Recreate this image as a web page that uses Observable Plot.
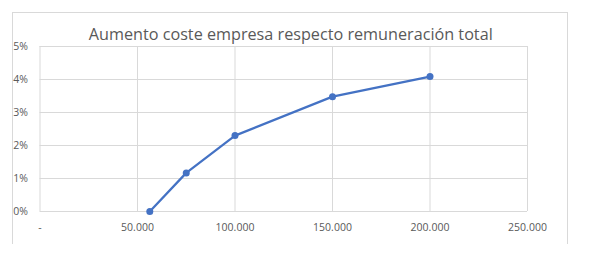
<!DOCTYPE html>
<html>
<head>
<meta charset="utf-8">
<script src="https://cdn.jsdelivr.net/npm/d3@7"></script>
<script src="https://cdn.jsdelivr.net/npm/@observablehq/plot@0.6"></script>
<style>
  html, body { margin: 0; padding: 0; background: #fff; }
  #wrap { position: relative; width: 599px; height: 270px; }
  #frame { position: absolute; left: 12px; top: 12px; width: 556px; height: 232px;
           border: 1px solid #d9d9d9; border-bottom: none; box-sizing: border-box; }
  #chart { position: absolute; left: 0; top: 0; }
</style>
</head>
<body>
<div id="wrap"><div id="frame"></div><div id="chart"></div></div>
<script>
const title = "Aumento coste empresa respecto remuneración total";
const salaries = [56300, 75000, 100000, 150000, 200000];
const increases = [0.0, 0.0117, 0.0230, 0.0348, 0.0409];
const xTicks = [0, 50000, 100000, 150000, 200000, 250000];
const yTicks = [0, 0.01, 0.02, 0.03, 0.04, 0.05];

const data = salaries.map((s, i) => ({x: s, y: increases[i]}));
const loc = d3.formatLocale({decimal: ",", thousands: ".", grouping: [3], currency: ["", ""]});
const fmt = loc.format(",");
const grey = "#595959";
const font = "'Open Sans', Lato, sans-serif";

const chart = Plot.plot({
  width: 599,
  height: 270,
  marginLeft: 39.5,
  marginRight: 72,
  marginTop: 46,
  marginBottom: 59,
  style: {fontFamily: font, background: "transparent", color: grey},
  x: {domain: [0, 250000], ticks: xTicks, tickFormat: d => d === 0 ? "-" : fmt(d), label: null},
  y: {domain: [0, 0.05], ticks: yTicks, tickFormat: d => Math.round(d * 100) + "%", label: null},
  marks: [
    Plot.gridX(xTicks, {stroke: "#d9d9d9", strokeOpacity: 1, strokeWidth: 1}),
    Plot.gridY(yTicks, {stroke: "#d9d9d9", strokeOpacity: 1, strokeWidth: 1}),
    Plot.axisX({ticks: xTicks, tickSize: 0, tickPadding: 12, fontSize: 10.5, fill: grey, tickFormat: d => d === 0 ? "-" : fmt(d), label: null}),
    Plot.axisY({ticks: yTicks, tickSize: 0, tickPadding: 12, fontSize: 10.5, fill: grey, tickFormat: d => Math.round(d * 100) + "%", label: null}),
    Plot.line(data, {x: "x", y: "y", stroke: "#4472C4", strokeWidth: 2.25}),
    Plot.dot(data, {x: "x", y: "y", r: 3.5, fill: "#4472C4", stroke: "none"}),
    Plot.text([title], {text: d => d, frameAnchor: "top", dy: -12, dx: 7, fontSize: 16.2, fill: grey, lineAnchor: "middle"})
  ]
});
document.getElementById("chart").appendChild(chart);
</script>
</body>
</html>
